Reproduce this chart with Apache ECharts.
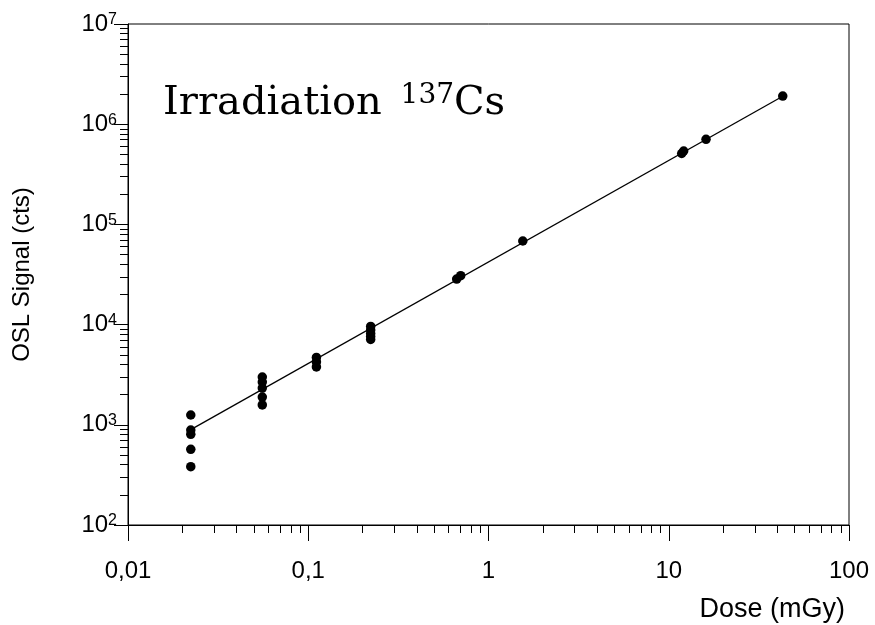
<!DOCTYPE html>
<html>
<head>
<meta charset="utf-8">
<script src="https://cdn.jsdelivr.net/npm/echarts@6/dist/echarts.min.js"></script>
<style>
	html, body { margin: 0; padding: 0; background: #fff; }
	#chart { width: 875px; height: 625px; }
</style>
</head>
<body>
<div id="chart"></div>
<script>
	// measured points (dose in mGy, OSL signal in counts)
	var doseValues = [
		0.0223, 0.0223, 0.0223, 0.0223, 0.0223,
		0.0556, 0.0556, 0.0556, 0.0556, 0.0556,
		0.111, 0.111, 0.111,
		0.222, 0.222, 0.222, 0.222, 0.222,
		0.666, 0.701,
		1.55,
		11.8, 12.1,
		16.1,
		42.9
	];
	var signalValues = [
		1253, 887, 804, 569, 382,
		3000, 2672, 2328, 1893, 1577,
		4700, 4240, 3780,
		9580, 8830, 8150, 7600, 7100,
		28500, 30800,
		68300,
		510000, 540000,
		706000,
		1910000
	];
	// fitted line end points
	var fitDose = [0.0223, 42.9];
	var fitSignal = [895, 1900000];

	var xTickLabels = ['0,01', '0,1', '1', '10', '100'];
	var xDecades = [-2, -1, 0, 1];
	var yDecades = [2, 3, 4, 5, 6];
	var minorSteps = [2, 3, 4, 5, 6, 7, 8, 9];

	var sansFont = '"Liberation Sans", Arial, sans-serif';
	var serifFont = '"DejaVu Serif", serif';

	// minor ticks in log10 space for the helper axes
	function minorTicks(decades){
		var arr = [];
		for(var i = 0; i < decades.length; i++){
			for(var j = 0; j < minorSteps.length; j++)
				arr.push(decades[i] + Math.log10(minorSteps[j]));
		}
		return arr;
	}

	var points = [];
	for(var i = 0; i < doseValues.length; i++)
		points.push([doseValues[i], signalValues[i]]);
	var fitLine = [];
	for(var i = 0; i < fitDose.length; i++)
		fitLine.push([fitDose[i], fitSignal[i]]);

	var chart = echarts.init(document.getElementById('chart'));
	var option = {
		animation: false,
		backgroundColor: '#fff',
		grid: {
			left: 128,
			right: 26,
			top: 24,
			bottom: 100,
			outerBoundsMode: 'none',
			containLabel: false,
			show: true,
			borderColor: '#000',
			borderWidth: 1
		},
		xAxis: [{
			type: 'log',
			logBase: 10,
			min: 0.01,
			max: 100,
			position: 'bottom',
			axisLine: { onZero: false, lineStyle: { color: '#000', width: 1 } },
			axisTick: { length: 16, lineStyle: { color: '#000' } },
			splitLine: { show: false },
			axisLabel: {
				margin: 34,
				color: '#000',
				fontSize: 24,
				fontFamily: sansFont,
				formatter: function(value){
					var idx = Math.round(Math.log10(value)) + 2;
					return xTickLabels[idx];
				}
			},
			name: 'Dose (mGy)',
			nameLocation: 'end',
			nameGap: -4,
			nameTextStyle: {
				color: '#000',
				fontSize: 27,
				fontFamily: sansFont,
				align: 'right',
				verticalAlign: 'top',
				padding: [71, 0, 0, 0]
			}
		}, {
			type: 'value',
			min: -2,
			max: 2,
			position: 'bottom',
			axisLine: { show: false, onZero: false },
			axisLabel: { show: false },
			splitLine: { show: false },
			axisTick: {
				show: true,
				length: 8,
				customValues: minorTicks(xDecades),
				lineStyle: { color: '#000' }
			}
		}],
		yAxis: [{
			type: 'log',
			logBase: 10,
			min: 100,
			max: 10000000,
			position: 'left',
			axisLine: { show: true, onZero: false, lineStyle: { color: '#000', width: 1 } },
			axisTick: { show: true, length: 14, lineStyle: { color: '#000' } },
			splitLine: { show: false },
			axisLabel: {
				margin: 11,
				color: '#000',
				formatter: function(value){
					return '{b|10}{s|' + Math.round(Math.log10(value)) + '}';
				},
				rich: {
					b: { fontSize: 24, fontFamily: sansFont, color: '#000', lineHeight: 24, verticalAlign: 'bottom' },
					s: { fontSize: 16, fontFamily: sansFont, color: '#000', lineHeight: 16, verticalAlign: 'top', padding: [0, 0, 14, 0] }
				}
			},
			name: 'OSL Signal (cts)',
			nameLocation: 'middle',
			nameGap: 94,
			nameTextStyle: {
				color: '#000',
				fontSize: 24,
				fontFamily: sansFont
			}
		}, {
			type: 'value',
			min: 2,
			max: 7,
			position: 'left',
			axisLine: { show: false, onZero: false },
			axisLabel: { show: false },
			splitLine: { show: false },
			axisTick: {
				show: true,
				length: 8,
				customValues: minorTicks(yDecades),
				lineStyle: { color: '#000' }
			}
		}],
		graphic: [{
			type: 'text',
			left: 163,
			top: 82,
			style: {
				text: '{a|Irradiation }{s|137}{a|Cs}',
				rich: {
					a: { fontSize: 40, fontFamily: serifFont, fill: '#000', lineHeight: 42, verticalAlign: 'bottom' },
					s: { fontSize: 28, fontFamily: serifFont, fill: '#000', lineHeight: 28, verticalAlign: 'top', padding: [0, 0, 18, 6] }
				}
			}
		}],
		series: [{
			type: 'line',
			data: fitLine,
			xAxisIndex: 0,
			yAxisIndex: 0,
			showSymbol: false,
			symbol: 'none',
			lineStyle: { color: '#000', width: 1.3 },
			z: 2
		}, {
			type: 'scatter',
			data: points,
			xAxisIndex: 0,
			yAxisIndex: 0,
			symbol: 'circle',
			symbolSize: 9.5,
			itemStyle: { color: '#000', opacity: 1 },
			z: 3
		}]
	};
	chart.setOption(option);
</script>
</body>
</html>
